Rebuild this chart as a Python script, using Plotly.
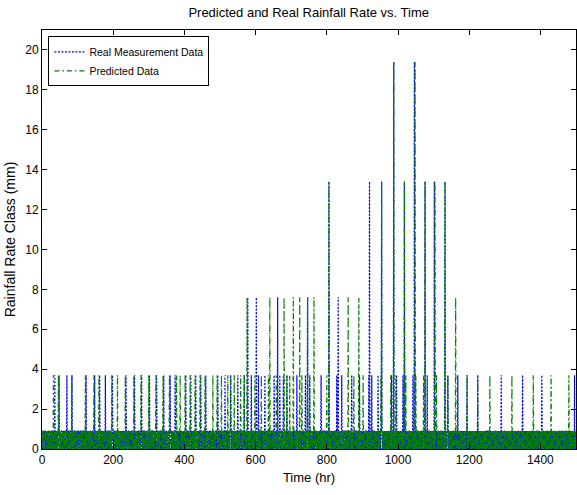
import numpy as np
import plotly.graph_objects as go

# ---------------- data ----------------
STEP_HR = 1  # one sample per hour
CLASS_LEVELS = [0.0, 0.9, 3.7, 7.6, 13.4, 19.4]

# hourly baseline class index (0 -> 0 mm, 1 -> 0.9 mm), one char per hour
REAL_BASE = (
    "01011001101001011010011001011010110100101101001101"
    "10100110101101001011001101010011010110010110100101"
    "01101001011010011010010110101100101001101011010010"
    "11010010110011010100101101001011010110100101100101"
    "00101101010011011001010110100110101001011011001010"
    "10110100101101001101011001010110100101101011001101"
    "01001011010110010110100101101001101010110010110101"
    "10011010010110101001101011001011010010110101001101"
    "01101011001010110100101101001101011001010110100101"
    "10010110100110101100101101001010110100110101001011"
    "01011010011010110010110100101101011001011010010110"
    "10100101101001011010110010101101001101001011010101"
    "01101001101011001011010010110101001101011010010110"
    "10110010110100101101001101010110010110100101101001"
    "01001101011010010110101100101001011010011010110100"
    "10101101001010110100110101001011010101100101101010"
    "01010010110101001011010110100101010011010101101001"
    "10101011010010101101010010110101011010010101001011"
    "01010100101101010010101101001010110101010010110101"
    "10110101010010101101001010101101010010101011010010"
    "01001010101101010010110101010010101101010100101101"
    "10101101010101001010110101001010101101010010101010"
    "01010010101011010101001011010101010010110101010101"
    "10101010110101001010101101010100101010110101001010"
    "01010101001010110101010010101011010101001010101101"
    "10101010101101010100101010110101010101001010101010"
    "01010101010010101011010101010010101010110101010101"
    "10101010101010110101010101001010101010101101010101"
    "01010101010101010010101010101011010101010101010010"
    "10101010101010101011010101010101010010101010101010"
)
PRED_BASE = (
    "10110100110101100101101001011010011010110100101101"
    "01001011010010110101001101011001011010010110101001"
    "10110010110101001101011010010110100110101001011010"
    "01011010010110101100101001101011010010110101100101"
    "11001011010010110101101001011001101010010110100110"
    "01011010110010101101001011010110010110101001101010"
    "10100110101101001011010010110101001101011010010110"
    "01101001011001101010110100101101001011010110010101"
    "10010110101101001101001011010110100101101001011010"
    "01101010010110101001101101001010110100101101011001"
    "10110100101101001011010010110101101001101010010110"
    "01001011010110101001011010110010110100101101001011"
    "10110101001011010110100101101001011010110010110100"
    "01011010110010110100101101011010010110100101101010"
    "10100101101001011010110100101101001101011001011001"
    "01010110101001010110100101010110100101011010100101"
    "10101001010110101001011010101001011010100101011010"
    "01011010100101010110101001010110100101011010100101"
    "10100101011010101001010110101001011010100101011010"
    "01010110100101011010100101011010010101101010010101"
    "10101001011010100101011010010101101010010101101010"
    "01011010100101011010010101101010010101101001010101"
    "10100101011010100101101010010101101001010110101010"
    "01010110100101011010010101101001010110101001010101"
    "10101001011010100101101010010110101001010110101010"
    "01011010010101101001010110100101011010010101101001"
    "10100101101010010110101001011010100101101010010110"
    "01011010010101101010010110101001011010010101101010"
    "10100101101010010101101010010110100101011010100101"
    "01011010010110101001010110101001010110100101011010"
)

# rain events: hour and class index
REAL_SPIKE_HR = [36, 48, 70, 84, 124, 148, 162, 178, 198, 236, 260, 280, 302, 322,
                 342, 360, 374, 404, 418, 432, 446, 460, 494, 514, 530, 550, 568,
                 588, 608, 626, 652, 668, 688, 716, 740, 752, 784, 828, 842, 870,
                 892, 918, 944, 982, 996, 1014, 1042, 1082, 1140, 1168, 1194, 1224,
                 1290, 1350, 1404, 1496, 678, 926,
                 578, 602, 662, 746, 832,
                 806, 920, 954, 1018, 1076, 1102, 1132,
                 988, 1046]
REAL_SPIKE_CLS = [2] * 58 + [3] * 5 + [4] * 7 + [5] * 2

PRED_SPIKE_HR = [32, 46, 84, 122, 146, 160, 196, 212, 234, 258, 278, 300, 320, 340,
                 358, 378, 388, 402, 416, 430, 444, 458, 480, 492, 504, 522, 540,
                 558, 598, 616, 636, 658, 696, 730, 752, 800, 876, 902, 926, 952,
                 980, 994, 1022, 1050, 1072, 1108, 1140, 1194, 1224, 1258, 1320,
                 1380, 1430, 1480, 530, 568, 688,
                 576, 640, 680, 706, 724, 746, 764, 860, 890, 1162,
                 806, 954, 1018, 1076, 1104, 1132,
                 988, 1048]
PRED_SPIKE_CLS = [2] * 57 + [3] * 10 + [4] * 6 + [5] * 2


def build(base, spike_hr, spike_cls):
    cls = np.array([int(c) for c in base])
    for h, c in zip(spike_hr, spike_cls):
        i = h // STEP_HR
        if i < len(cls):
            cls[i] = max(cls[i], c)
    t = np.arange(len(cls)) * STEP_HR
    return t, np.array(CLASS_LEVELS)[cls]


t_real, y_real = build(REAL_BASE, REAL_SPIKE_HR, REAL_SPIKE_CLS)
t_pred, y_pred = build(PRED_BASE, PRED_SPIKE_HR, PRED_SPIKE_CLS)

FONT = "Liberation Sans, Arial, sans-serif"

fig = go.Figure()
fig.add_trace(go.Scatter(x=t_real, y=y_real, mode="lines", name="Real Measurement Data",
                         line=dict(color="rgb(0,0,255)", width=1.2, dash="2px,1.5px",
                                   simplify=False)))
fig.add_trace(go.Scatter(x=t_pred, y=y_pred, mode="lines", name="Predicted Data",
                         line=dict(color="rgb(0,128,0)", width=1.2, dash="5px,3px,1.5px,3px",
                                   simplify=False)))

axis_common = dict(showline=True, linecolor="black", linewidth=1, mirror="allticks",
                   ticks="inside", ticklen=5, tickcolor="black", showgrid=False,
                   zeroline=False, tickfont=dict(family=FONT, size=12, color="black"))

fig.update_layout(
    width=577, height=495,
    margin=dict(l=42, r=1, t=30, b=46),
    paper_bgcolor="white", plot_bgcolor="white",
    font=dict(family=FONT, size=12, color="black"),
    title=dict(text="Predicted and Real Rainfall Rate vs. Time", x=0.535, xanchor="center",
               y=0.975, yanchor="middle", font=dict(family=FONT, size=13, color="black")),
    xaxis=dict(range=[0, 1500], tickvals=[0, 200, 400, 600, 800, 1000, 1200, 1400],
               title=dict(text="Time (hr)", standoff=6, font=dict(family=FONT, size=13)),
               **axis_common),
    yaxis=dict(range=[0, 21], tickvals=list(range(0, 21, 2)),
               title=dict(text="Rainfall Rate Class (mm)", standoff=6,
                          font=dict(family=FONT, size=14)),
               **axis_common),
    legend=dict(x=0.012, y=0.985, xanchor="left", yanchor="top", bgcolor="white",
                bordercolor="black", borderwidth=1, font=dict(family=FONT, size=10.5),
                itemwidth=30, tracegroupgap=0),
    showlegend=True,
)

fig.write_html("out.html")
